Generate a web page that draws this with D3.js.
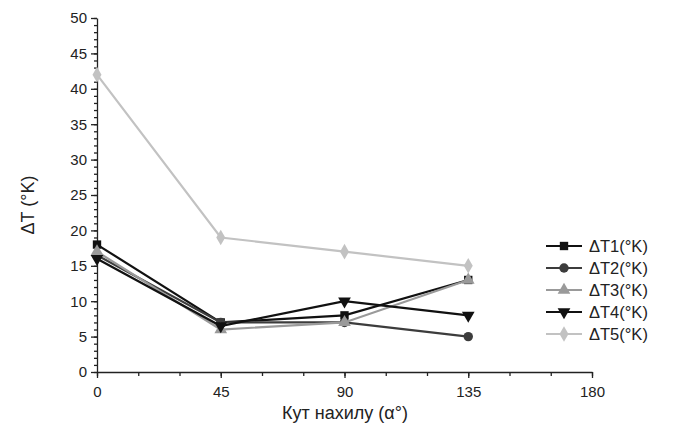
<!DOCTYPE html>
<html>
<head>
<meta charset="utf-8">
<script src="https://cdn.jsdelivr.net/npm/d3@7/dist/d3.min.js"></script>
<style>
  body { margin: 0; background: #fff; }
  text { font-family: Arial, "Liberation Sans", sans-serif; }
</style>
</head>
<body>
<svg id="chart" width="676" height="440"></svg>
<script>
// tilt angles (deg)
const angles = [0, 45, 90, 135];
// temperature differences per series
const dT1 = [18, 7, 8, 13];
const dT2 = [16.5, 7, 7, 5];
const dT3 = [17, 6, 7, 13];
const dT4 = [16, 6.5, 10, 8];
const dT5 = [42, 19, 17, 15];
const seriesNames = ["\u0394T1(\u00b0K)", "\u0394T2(\u00b0K)", "\u0394T3(\u00b0K)", "\u0394T4(\u00b0K)", "\u0394T5(\u00b0K)"];
const xTicks = [0, 45, 90, 135, 180];
const yTicks = [0, 5, 10, 15, 20, 25, 30, 35, 40, 45, 50];

const series = [
  {name: seriesNames[0], vals: dT1, color: "#111", sym: d3.symbolSquare, rot: 0},
  {name: seriesNames[1], vals: dT2, color: "#3c3c3c", sym: d3.symbolCircle, rot: 0},
  {name: seriesNames[2], vals: dT3, color: "#9a9a9a", sym: d3.symbolTriangle, rot: 0},
  {name: seriesNames[3], vals: dT4, color: "#111", sym: d3.symbolTriangle, rot: 180},
  {name: seriesNames[4], vals: dT5, color: "#c2c2c2", sym: d3.symbolDiamond, rot: 0}
];

const svg = d3.select("#chart");
const x = d3.scaleLinear().domain([0, 180]).range([97, 592]);
const y = d3.scaleLinear().domain([0, 50]).range([372, 18]);

// y axis, major + minor ticks pointing outward
svg.append("g")
    .attr("transform", "translate(97,0)")
    .call(d3.axisLeft(y).tickValues(d3.range(0, 51, 1)).tickSize(3).tickFormat(""))
    .call(g => g.select(".domain").remove());
const yAx = svg.append("g")
    .attr("transform", "translate(97,0)")
    .call(d3.axisLeft(y).tickValues(yTicks).tickSize(6).tickSizeOuter(0).tickPadding(4));
yAx.selectAll("text").style("font-size", "15px").attr("fill", "#222");

// x axis
svg.append("g")
    .attr("transform", "translate(0,372)")
    .call(d3.axisBottom(x).tickValues(d3.range(0, 181, 15)).tickSize(4).tickFormat(""))
    .call(g => g.select(".domain").remove());
const xAx = svg.append("g")
    .attr("transform", "translate(0,372)")
    .call(d3.axisBottom(x).tickValues(xTicks).tickSize(6).tickSizeOuter(0).tickPadding(8));
xAx.selectAll("text").style("font-size", "15px").attr("fill", "#222");
svg.selectAll(".domain, .tick line").attr("stroke", "#222").attr("stroke-width", 1.3);

// axis titles
svg.append("text")
    .attr("x", 345).attr("y", 419)
    .attr("text-anchor", "middle")
    .style("font-size", "18px").attr("fill", "#222")
    .text("\u041a\u0443\u0442 \u043d\u0430\u0445\u0438\u043b\u0443 (\u03b1\u00b0)");
svg.append("text")
    .attr("transform", "translate(34,205) rotate(-90)")
    .attr("text-anchor", "middle")
    .style("font-size", "18px").attr("fill", "#222")
    .text("\u0394T (\u00b0K)");

const line = d3.line().x((d, i) => x(angles[i])).y(d => y(d));

series.forEach(s => {
  svg.append("path")
      .datum(s.vals)
      .attr("d", line)
      .attr("fill", "none")
      .attr("stroke", s.color)
      .attr("stroke-width", 2.2);
  svg.selectAll(null)
      .data(s.vals)
      .join("path")
      .attr("d", d3.symbol().type(s.sym).size(70))
      .attr("transform", (d, i) => `translate(${x(angles[i])},${y(d)}) rotate(${s.rot})`)
      .attr("fill", s.color);
});

// legend
const leg = svg.append("g").attr("transform", "translate(546,246)");
series.forEach((s, i) => {
  const g = leg.append("g").attr("transform", `translate(0,${i * 22})`);
  g.append("line").attr("x1", 0).attr("x2", 36).attr("y1", 0).attr("y2", 0)
      .attr("stroke", s.color).attr("stroke-width", 2.2);
  g.append("path").attr("d", d3.symbol().type(s.sym).size(70))
      .attr("transform", `translate(18,0) rotate(${s.rot})`).attr("fill", s.color);
  g.append("text").attr("x", 43).attr("y", 6)
      .style("font-size", "16.5px").attr("fill", "#222").text(s.name);
});
</script>
</body>
</html>
